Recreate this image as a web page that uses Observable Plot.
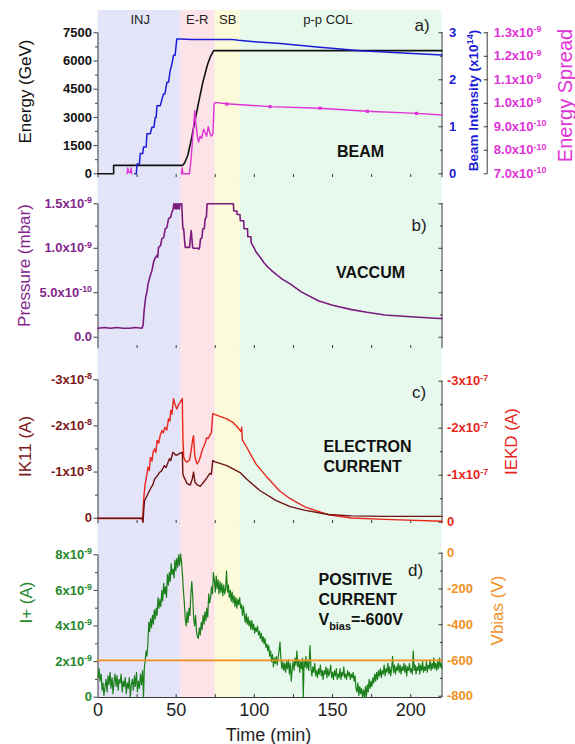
<!DOCTYPE html>
<html><head><meta charset="utf-8">
<script src="https://cdn.jsdelivr.net/npm/d3@7"></script>
<script src="https://cdn.jsdelivr.net/npm/@observablehq/plot@0.6"></script>
<style>
body{margin:0;background:#fff;}
#chart{position:relative;width:575px;height:744px;font-family:'Liberation Sans',Arial,sans-serif;}
#chart svg{position:absolute;left:0;}
#chart g[aria-label="y-axis tick label"] text{font-weight:bold;}
</style></head><body><div id="chart"></div>
<script>
// ---------------- data ----------------
const phaseNames = ["INJ", "E-R", "SB", "p-p COL"];
const phaseStart = [0, 53, 75, 91];
const phaseEnd = [53, 75, 91, 220];
const phaseLabelT = [27, 63.5, 83, 147];
const phaseColors = ["#e4e4f9", "#fce3e7", "#fbfbd9", "#e7f8ec"];

const timeTicks = [0, 50, 100, 150, 200];
const timeMinorTicks = [25, 50, 75, 100, 125, 150, 175, 200];

// a) Energy (GeV)
const energy = [[0,0],[10,0],[10,450],[54,450],[54.5,480],[55.5,600],[56.5,800],[57.5,1000],[58,1200],[60,1950],[61,2400],[62,2800],[64,3650],[67,4850],[70,5800],[72,6250],[74,6550],[220,6550]];
// a) Beam intensity (x1e14)
const beam = [[23.5,0],[24.5,0],[24.9,0.21],[26.5,0.21],[27,0.43],[28.6,0.43],[29.1,0.57],[30.8,0.57],[31.3,0.85],[33.4,0.85],[34.5,0.99],[35.8,0.99],[36.6,1.2],[37.2,1.2],[37.7,1.45],[39.8,1.45],[41.9,1.7],[42.8,1.7],[44.1,1.95],[45.1,1.95],[46.2,2.2],[47.3,2.34],[48.3,2.52],[49.3,2.52],[50.4,2.87],[53,2.87],[60,2.86],[75,2.86],[85,2.86],[90,2.84],[100,2.81],[116.6,2.77],[140,2.7],[168,2.62],[195,2.57],[220,2.53]];
// a) Energy spread (x1e-10)
const spread = [[18.6,7.0],[19,7.25],[19.8,7.05],[20.6,7.05],[21.2,7.25],[21.6,7.0]];
const spread2 = [[53.3,7.0],[53.8,7.25],[54.3,7.0],[58.5,7.0],[59.5,7.6],[60.5,8.5],[61.9,9.69],[62.5,9.2],[63.5,8.6],[64.3,8.35],[65.3,8.6],[66.3,8.5],[67.5,8.9],[68.5,8.75],[69.5,8.6],[70.5,9.0],[71.5,8.75],[72.5,8.6],[73.5,8.7],[74.2,9.95],[75,10.04],[82,9.98],[110,9.86],[142,9.79],[172,9.66],[204,9.57],[220,9.5]];
const spreadMarks = [[82.4,9.97],[110,9.86],[142,9.79],[172.3,9.66],[203.7,9.57]];

const energyTicks = [0, 1500, 3000, 4500, 6000, 7500];
const energyMinor = [750, 2250, 3750, 5250, 6750];
const beamTicks = [0, 1, 2, 3];
const beamMinor = [0.5, 1.5, 2.5];
const spreadTicks = [7, 8, 9, 10, 11, 12, 13];
const spreadLabels = ["7.0x10^{-10}", "8.0x10^{-10}", "9.0x10^{-10}", "1.0x10^{-9}", "1.1x10^{-9}", "1.2x10^{-9}", "1.3x10^{-9}"];

// b) Pressure (x1e-9 mbar)
const pressure = [[0,0.10],[4,0.11],[8,0.10],[12,0.11],[16,0.10],[20,0.10],[24,0.11],[28,0.10],[28.8,0.13],[29.5,0.3],[30.5,0.45],[31.3,0.51],[32,0.6],[33.4,0.69],[34.5,0.75],[35.5,0.84],[36.2,0.88],[37.7,0.92],[38.2,0.9],[38.7,1.01],[40,1.03],[40.9,1.11],[42,1.12],[43,1.22],[44,1.23],[45.1,1.33],[46.5,1.35],[47.3,1.41],[48,1.43],[48.5,1.5],[49,1.45],[49.5,1.5],[50,1.44],[50.5,1.5],[51,1.45],[51.5,1.5],[52,1.44],[52.5,1.5],[53.6,1.5],[53.9,1.35],[54.3,1.22],[54.8,1.22],[55.3,1.1],[55.8,1.01],[58.5,1.01],[59,1.1],[59.6,1.2],[60.1,1.1],[60.5,1.01],[61,1.0],[64,1.0],[64.5,0.99],[65,1.01],[65.5,1.1],[66.5,1.12],[67,1.22],[68,1.22],[68.5,1.33],[69.3,1.35],[69.8,1.5],[86.6,1.5],[86.8,1.42],[88.8,1.42],[89,1.38],[90.8,1.38],[91,1.31],[93.2,1.31],[93.4,1.22],[95.6,1.22],[95.8,1.13],[97.8,1.13],[98,1.06],[100,1.0],[101,0.96],[103.7,0.9],[106,0.84],[108,0.8],[111,0.75],[114.4,0.7],[118,0.65],[122.9,0.6],[130,0.51],[140.9,0.41],[150,0.36],[162.2,0.31],[172,0.28],[183.5,0.25],[200,0.23],[218.6,0.21],[220,0.21]];
const pressTicks = [0, 0.5, 1.0, 1.5];
const pressLabels = ["0.0", "5.0x10^{-10}", "1.0x10^{-9}", "1.5x10^{-9}"];
const pressMinor = [0.25, 0.75, 1.25];

// c) IK11 (x1e-8 A) and IEKD (x1e-7 A)
const ik11 = [[0,0],[28,0],[28.8,0.09],[29.3,-0.2],[29.8,-0.38],[30.8,-0.45],[31.9,-0.53],[33,-0.6],[34,-0.67],[35,-0.72],[36.2,-0.85],[37.5,-0.9],[39.3,-0.99],[40.5,-1.02],[42.5,-1.14],[43.5,-1.1],[45.7,-1.29],[46.5,-1.25],[47.9,-1.43],[50,-1.36],[52,-1.4],[53.9,-1.43],[54.3,-0.95],[55,-0.89],[57,-0.75],[59,-0.72],[60.3,-0.85],[61.1,-1.0],[62,-0.78],[63.5,-0.72],[65.4,-0.69],[67.5,-0.78],[69.5,-0.87],[71.5,-0.97],[72.5,-0.95],[73.4,-1.25],[75,-1.22],[82.4,-1.14],[90.9,-0.99],[95,-0.85],[103.5,-0.6],[114,-0.38],[122.9,-0.25],[132.6,-0.17],[147.4,-0.08],[162,-0.05],[183.5,-0.04],[220,-0.04]];
const iekd = [[0,-0.08],[28,-0.08],[28.5,-0.05],[28.8,-0.25],[29.5,-0.6],[30.2,-0.81],[31.2,-1.0],[31.9,-1.17],[32.8,-1.1],[33.5,-1.38],[34.5,-1.3],[35.3,-1.5],[36.2,-1.56],[37,-1.48],[37.8,-1.74],[38.8,-1.68],[39.8,-1.85],[40.9,-1.95],[41.8,-1.9],[42.8,-2.02],[44,-1.96],[45.1,-2.2],[46,-2.15],[46.5,-2.38],[47.3,-2.3],[48.3,-2.63],[49.3,-2.5],[50.4,-2.41],[51.5,-2.5],[52.5,-2.55],[53.9,-2.63],[54.3,-1.8],[54.8,-1.38],[56,-1.3],[56.9,-1.28],[58.5,-1.32],[59.5,-1.5],[60.5,-1.75],[61.1,-1.84],[61.8,-1.45],[62.5,-1.32],[63.4,-1.24],[64.5,-1.3],[65.4,-1.38],[66.5,-1.52],[67.5,-1.6],[68.5,-1.68],[69.5,-1.8],[70.5,-1.78],[71.5,-1.85],[72.5,-1.9],[73.4,-2.31],[75,-2.29],[78,-2.25],[82.4,-2.2],[86,-2.13],[89,-2.03],[91.5,-1.93],[91.9,-2.02],[92.3,-1.75],[95,-1.6],[101,-1.24],[108,-0.96],[116,-0.67],[122.9,-0.5],[132.6,-0.32],[147.4,-0.16],[162,-0.09],[183.5,-0.06],[220,-0.02]];
const ik11Ticks = [0, -1, -2, -3];
const ik11Labels = ["0", "-1x10^{-8}", "-2x10^{-8}", "-3x10^{-8}"];
const ik11Minor = [-0.5, -1.5, -2.5];
const iekdTicks = [0, -1, -2, -3];
const iekdLabels = ["0", "-1x10^{-7}", "-2x10^{-7}", "-3x10^{-7}"];
const iekdMinor = [-0.5, -1.5, -2.5];

// d) I+ (x1e-9 A) and Vbias (V)
const iplus = [[0,1.1],[0.7,1.6],[1.3,0.9],[2,1.3],[2.6,0.4],[3.2,0.8],[3.8,0.1],[4.5,0.6],[5.1,1.0],[5.8,0.3],[6.4,1.2],[7,0.7],[7.7,1.4],[8.3,0.5],[9,1.1],[9.6,0.2],[10.3,0.9],[10.9,1.3],[11.6,0.6],[12.2,1.2],[12.9,0.4],[13.5,1.0],[14.2,0.8],[14.8,1.3],[15.5,0.3],[16.1,0.9],[16.8,0.6],[17.4,1.1],[18.1,0.2],[18.7,0.8],[19.4,0.5],[20,1.1],[20.7,0.0],[21.3,0.7],[22,1.0],[22.6,0.4],[23.3,1.2],[23.9,0.6],[24.6,1.4],[25.2,0.3],[25.9,0.9],[26.5,0.5],[27.2,1.3],[27.8,0.7],[28.5,1.5],[29.1,0.0],
[29.6,1.6],[30.2,2.1],[30.8,2.6],[31.3,2.3],[31.9,3.0],[32.5,4.2],[33,3.7],[33.6,4.4],[34.2,3.9],[34.8,4.6],[35.4,4.1],[36,4.9],[36.6,4.4],[37.2,5.0],[37.8,4.6],[38.4,5.6],[39,5.0],[39.6,5.5],[40.2,5.1],[40.8,6.0],[41.4,5.4],[42,6.4],[42.6,5.8],[43.2,6.2],[43.8,5.6],[44.4,6.9],[45,6.3],[45.6,7.0],[46.2,6.5],[46.8,7.5],[47.4,6.9],[48,7.2],[48.6,6.7],[49.2,7.7],[49.8,7.1],[50.4,7.8],[51,7.3],[51.6,8.0],[52.2,7.4],[52.8,8.05],[53.4,7.6],[54,6.9],
[54.6,6.0],[55.2,5.3],[55.8,4.4],[56.4,4.0],[57,4.8],[57.6,4.2],[58.2,5.0],[58.8,4.6],[59.4,5.8],[60,6.5],[60.6,5.6],[61.2,4.4],[61.8,4.0],[62.4,4.6],[63,3.7],[63.6,3.4],[64.2,3.3],[64.8,3.9],[65.4,3.5],[66,4.2],[66.6,3.8],[67.2,4.6],[67.8,4.1],[68.4,4.8],[69,4.3],[69.6,5.0],[70.2,4.5],[70.8,5.8],[71.4,5.3],[72,5.6],[72.6,6.2],[73.2,5.8],[73.8,7.0],[74.4,6.6],[75,5.9],[75.6,6.8],[76.2,6.1],[76.8,6.6],[77.4,5.8],[78,6.5],[78.6,5.9],[79.2,6.4],[79.8,5.7],[80.4,6.3],[81,5.8],[81.6,6.1],[82.2,7.1],[82.8,5.9],[83.4,6.3],[84,5.6],[84.6,6.0],[85.2,5.4],[85.8,5.9],[86.4,5.3],[87,5.7],[87.6,5.1],[88.2,5.6],[88.8,5.0],[89.4,5.5],[90,5.2],[90.6,5.6],[91.2,5.0],[91.8,5.2],[92.4,4.6],[93,5.1],[93.6,4.6],[94.2,4.2],[94.8,4.7],[95.4,4.1],[96,4.5],[96.6,4.0],[97.2,4.3],[97.8,3.8],[98.4,4.3],[99,3.8],[99.6,4.1],[100.2,3.6],[100.8,3.9],[101.4,3.7],[102,4.0],[102.6,3.5],[103.2,3.7],[103.8,3.3],[104.4,3.6],[105,3.1],[105.6,3.4],[106.2,3.0],[106.8,3.3],[107.4,2.8],[108,3.0],[108.6,2.6],[109.2,2.9],[109.8,2.3],[110.4,2.6],[111,2.0],[111.6,2.4],[112.2,1.7],[112.8,2.2],[113.4,1.9],[114,2.3],[114.6,1.8],[115.2,2.2],[115.8,2.6],[116.4,3.1],[117,2.1],[117.6,1.6],[118.2,2.0],[118.8,1.5],[119.4,1.9],[120,1.4],[120.6,2.0],[121.2,1.6],[121.8,2.1],[122.4,1.3],[123,1.9],[123.6,0.9],[124.2,1.6],[124.8,2.0],[125.4,1.5],[126,2.2],[126.6,1.8],[127.2,2.6],[127.8,1.7],[128.4,2.1],[129,1.4],[129.6,2.0],[130.2,1.6],[130.8,2.2],[131.3,0.0],[131.8,2.0],[132.4,1.7],[133,2.3],[133.6,1.6],[134.2,2.0],[134.8,1.5],[135.6,2.9],[136.2,1.6],[136.8,1.2],[137.4,1.7],[138,1.4],[138.6,1.9],[139.2,1.2],[139.8,1.5],[140.4,1.1],[141,1.6],[141.6,1.3],[142.2,1.8],[142.8,1.2],[143.4,1.5],[144,1.0],[144.6,1.5],[145.2,1.3],[145.8,1.7],[146.4,1.1],[147,1.6],[147.6,1.2],[148.2,1.4],[148.8,1.8],[149.4,1.1],[150,1.4],[150.6,1.0],[151.2,1.5],[151.8,1.2],[152.4,1.6],[153,1.0],[153.6,1.3],[154.2,1.1],[154.8,1.6],[155.4,1.0],[156,1.4],[156.6,1.2],[157.2,1.7],[157.8,1.1],[158.4,1.3],[159,1.0],[159.6,1.5],[160.2,1.2],[160.8,1.4],[161.4,1.0],[162,1.3],[162.6,1.1],[163.2,1.4],[163.8,0.9],[164.4,1.2],[165,0.5],[165.6,0.3],[166.2,0.8],[166.8,0.1],[167.4,0.6],[168,0.2],[168.6,0.5],[169.2,0.0],[169.8,0.4],[170.4,0.0],[171,0.6],[171.6,0.0],[172.2,0.7],[172.8,0.3],[173.4,1.0],[174,0.5],[174.6,0.9],[175.2,0.6],[175.8,1.1],[176.4,0.8],[177,1.3],[177.6,0.9],[178.2,1.4],[178.8,1.0],[179.4,1.5],[180,1.2],[180.6,1.6],[181.2,1.1],[181.8,1.5],[182.4,1.3],[183,1.8],[183.6,1.2],[184.2,1.6],[184.8,1.4],[185.4,1.9],[186,1.3],[186.6,1.7],[187.2,1.2],[187.8,1.6],[188.4,2.3],[189,1.4],[189.6,1.8],[190.2,1.3],[190.8,1.7],[191.4,1.5],[192,1.9],[192.6,1.4],[193.2,1.8],[193.8,1.3],[194.4,1.7],[195,1.5],[195.6,1.9],[196.2,1.4],[196.8,1.8],[197.4,1.2],[198,1.7],[198.6,1.5],[199.2,1.9],[199.8,1.4],[200.4,1.6],[201,1.3],[201.6,2.6],[202.2,1.5],[202.8,1.8],[203.4,1.3],[204,1.7],[204.6,1.5],[205.2,1.9],[205.8,1.3],[206.4,1.8],[207,1.5],[207.6,2.0],[208.2,1.4],[208.8,1.7],[209.4,1.5],[210,2.0],[210.6,1.4],[211.2,1.8],[211.8,1.6],[212.4,2.1],[213,1.5],[213.6,1.9],[214.2,1.6],[214.8,2.2],[215.4,1.6],[216,1.9],[216.6,1.5],[217.2,2.0],[217.8,1.6],[218.4,2.2],[219,1.7],[219.6,1.9],[220,1.6]];
const vbias = [[0,-600],[220,-600]];
const ipTicks = [0, 2, 4, 6, 8];
const ipLabels = ["0", "2x10^{-9}", "4x10^{-9}", "6x10^{-9}", "8x10^{-9}"];
const ipMinor = [1, 3, 5, 7];
const vbiasTicks = [0, -200, -400, -600, -800];
const vbiasMinor = [-100, -300, -500, -700];

// ---------------- helpers ----------------
const W = 575, ML = 97.5, MR = 133.5;
const FONT = "'Liberation Sans', Arial, Helvetica, sans-serif";
const AX = "#3a3a3a";
const C = {blue:"#1c1cd6", magenta:"#e033d6", purple:"#7a1b7e", purpleT:"#84268c", dred:"#6e1212", dredT:"#7b1818", red:"#e8261c", green:"#1b7f1b", greenT:"#26882a", orange:"#f0901e"};

// secondary-axis mappings into each panel's primary y units
const fBeam = v => v * 2500;
const fSpread = v => (v - 7) / 6 * 7500;
const fNeg = v => -v;
const fIekd = v => -0.087 + 1.019 * (-v);
const fVbias = v => 0.0562 + 0.010042 * (v + 800);
const id = v => v;

function bands() {
  return phaseNames.map((n, i) => Plot.rect([i], {x1: () => phaseStart[i], x2: () => phaseEnd[i], fill: phaseColors[i]}));
}
function line(data, f, opts) { return Plot.line(data, {x: d => d[0], y: d => f(d[1]), ...opts}); }
function yAxis(ticks, labels, f, opts) {
  const pos = ticks.map(f);
  const m = new Map(pos.map((p, i) => [p, labels ? labels[i] : ""]));
  return Plot.axisY(pos, {tickFormat: p => m.get(p), label: null, fontSize: 13, fontWeight: "bold", stroke: AX, ...opts});
}
function xTicksInward() {
  return Plot.axisX(timeMinorTicks, {tickSize: 3, dy: -3, tickFormat: () => "", label: null, stroke: AX});
}
function txt(s, opts) { return Plot.text([s], {text: d => d, lineAnchor: "middle", ...opts}); }
function vlabel(s, opts) { return Plot.text([s], {text: d => d, rotate: -90, textAnchor: "middle", lineAnchor: "middle", ...opts}); }

function richify(svg) {
  svg.querySelectorAll("text").forEach(t => {
    const spans = t.querySelectorAll("tspan");
    const els = spans.length ? Array.from(spans) : [t];
    els.forEach(el => {
      const s = el.textContent;
      if (!/[\^_]\{/.test(s)) return;
      el.textContent = "";
      const re = /([\^_])\{([^}]*)\}/g;
      let last = 0, m, shift = 0;
      const add = (str, dy, size) => {
        const ts = document.createElementNS("http://www.w3.org/2000/svg", "tspan");
        if (dy) ts.setAttribute("dy", dy);
        if (size) ts.setAttribute("font-size", size);
        ts.textContent = str;
        el.appendChild(ts);
      };
      while ((m = re.exec(s))) {
        if (m.index > last) { add(s.slice(last, m.index), shift ? (-shift) + "em" : null); shift = 0; }
        if (m[1] === "^") { add(m[2], "-0.55em", "68%"); shift = -0.374; }
        else { add(m[2], "0.45em", "68%"); shift = 0.306; }
        last = re.lastIndex;
      }
      if (last < s.length) add(s.slice(last), shift ? (-shift) + "em" : null);
    });
  });
}

function makePanel(top, height, mt, mb, yDomain, marks) {
  const svg = Plot.plot({
    width: W, height, marginLeft: ML, marginRight: MR, marginTop: mt, marginBottom: mb,
    x: {domain: [0, 220]}, y: {domain: yDomain},
    style: {fontFamily: FONT, fontSize: "13px", background: "transparent", overflow: "visible", color: "#222"},
    marks
  });
  svg.style.top = top + "px";
  richify(svg);
  document.getElementById("chart").appendChild(svg);
}

// ---------------- panel a ----------------
const dA = [-197, 8686];
makePanel(0, 177, 10, 0, dA, [
  ...bands(),
  Plot.ruleY([dA[0]], {stroke: AX}),
  Plot.ruleX([0], {y1: dA[0], y2: 7500, stroke: AX}),
  Plot.ruleX([220], {y1: dA[0], y2: 7500, stroke: AX}),
  Plot.ruleX([220], {y1: fSpread(7), y2: fSpread(13), dx: 45.2, stroke: AX}),
  yAxis(energyTicks, energyTicks.map(String), id, {anchor: "left", tickSize: 4, tickPadding: 2, fill: "#111"}),
  yAxis(energyMinor, null, id, {anchor: "left", tickSize: 2.5}),
  yAxis(beamTicks, beamTicks.map(String), fBeam, {anchor: "right", tickSize: 4, dx: -4, tickPadding: 7, fill: C.blue}),
  yAxis(beamMinor, null, fBeam, {anchor: "right", tickSize: 2.5, dx: -2.5}),
  yAxis(spreadTicks, spreadLabels, fSpread, {anchor: "right", tickSize: 4, dx: 41.2, tickPadding: 6.6, fill: C.magenta}),
  xTicksInward(),
  line(energy, id, {stroke: "#111", strokeWidth: 1.6}),
  line(beam, fBeam, {stroke: C.blue, strokeWidth: 1.5}),
  line(spread, fSpread, {stroke: C.magenta, strokeWidth: 1.4}),
  line(spread2, fSpread, {stroke: C.magenta, strokeWidth: 1.4}),
  Plot.dot(spreadMarks, {x: d => d[0], y: d => fSpread(d[1]), symbol: "square", r: 1.8, fill: C.magenta}),
  Plot.text(phaseNames, {x: (d, i) => phaseLabelT[i], text: d => d, frameAnchor: "top", lineAnchor: "middle", dy: 9, fontSize: 13, fill: "#222"}),
  txt("a)", {frameAnchor: "top-right", dx: -20, dy: 15, fontSize: 17, fill: "#222", textAnchor: "middle"}),
  txt("BEAM", {frameAnchor: "top-left", dx: 262.5, dy: 141, fontSize: 16, fontWeight: "bold", fill: "#111", textAnchor: "middle"}),
  vlabel("Energy (GeV)", {frameAnchor: "left", dx: -72.5, dy: -2.5, fontSize: 17, fill: "#111"}),
  vlabel("Beam Intensity (x10^{14})", {frameAnchor: "right", dx: 31.5, dy: 6.5, fontSize: 13.5, fontWeight: "bold", fill: C.blue}),
  vlabel("Energy Spread", {frameAnchor: "right", dx: 123.5, dy: 1.5, fontSize: 20, fill: C.magenta})
]);

// ---------------- panel b ----------------
const dB = [-0.127, 1.796];
makePanel(177, 171, 0, 0, dB, [
  ...bands(),
  Plot.ruleY([dB[0]], {stroke: AX}),
  Plot.ruleX([0], {y1: dB[0], y2: 1.5, stroke: AX}),
  Plot.ruleX([220], {y1: dB[0], y2: 1.5, stroke: AX}),
  yAxis(pressTicks, pressLabels, id, {anchor: "left", tickSize: 4, tickPadding: 2, fill: C.purpleT}),
  yAxis(pressMinor, null, id, {anchor: "left", tickSize: 2.5}),
  yAxis(pressTicks, null, id, {anchor: "right", tickSize: 4, dx: -4}),
  yAxis(pressMinor, null, id, {anchor: "right", tickSize: 2.5, dx: -2.5}),
  xTicksInward(),
  line(pressure, id, {stroke: C.purple, strokeWidth: 1.6}),
  txt("b)", {frameAnchor: "top-right", dx: -23, dy: 48, fontSize: 17, fill: "#222", textAnchor: "middle"}),
  txt("VACCUM", {frameAnchor: "top-left", dx: 272.5, dy: 95.5, fontSize: 16, fontWeight: "bold", fill: "#111", textAnchor: "middle"}),
  vlabel("Pressure (mbar)", {frameAnchor: "left", dx: -73.5, dy: 2.5, fontSize: 17, fill: C.purpleT})
]);

// ---------------- panel c ----------------
const dC = [-0.115, 3.679];
makePanel(348, 175, 0, 0, dC, [
  ...bands(),
  Plot.ruleY([dC[0]], {stroke: AX}),
  Plot.ruleX([0], {y1: dC[0], y2: 3, stroke: AX}),
  Plot.ruleX([220], {y1: dC[0], y2: fIekd(-3), stroke: AX}),
  yAxis(ik11Ticks, ik11Labels, fNeg, {anchor: "left", tickSize: 4, tickPadding: 2, fill: C.dredT}),
  yAxis(ik11Minor, null, fNeg, {anchor: "left", tickSize: 2.5}),
  yAxis(iekdTicks, iekdLabels, fIekd, {anchor: "right", tickSize: 4, dx: -4, tickPadding: 5, fill: C.red}),
  yAxis(iekdMinor, null, fIekd, {anchor: "right", tickSize: 2.5, dx: -2.5}),
  xTicksInward(),
  line(iekd, fIekd, {stroke: C.red, strokeWidth: 1.4}),
  line(ik11, fNeg, {stroke: C.dred, strokeWidth: 1.4}),
  txt("c)", {frameAnchor: "top-right", dx: -23, dy: 44.5, fontSize: 17, fill: "#222", textAnchor: "middle"}),
  txt("ELECTRON\nCURRENT", {frameAnchor: "top-left", dx: 225.5, dy: 107, fontSize: 16, lineHeight: 1.25, fontWeight: "bold", fill: "#111", textAnchor: "start"}),
  vlabel("IK11 (A)", {frameAnchor: "left", dx: -72.5, dy: 10.5, fontSize: 17, fill: C.dredT}),
  vlabel("IEKD (A)", {frameAnchor: "right", dx: 69.5, dy: 5.5, fontSize: 17, fill: C.red})
]);

// ---------------- panel d ----------------
const dD = [-0.017, 9.758];
makePanel(523, 221, 0, 47, dD, [
  ...bands(),
  Plot.ruleY([dD[0]], {stroke: AX}),
  Plot.ruleX([0], {y1: dD[0], y2: 8, stroke: AX}),
  Plot.ruleX([220], {y1: dD[0], y2: fVbias(0), stroke: AX}),
  yAxis(ipTicks, ipLabels, id, {anchor: "left", tickSize: 4, tickPadding: 2, fill: C.greenT}),
  yAxis(ipMinor, null, id, {anchor: "left", tickSize: 2.5}),
  yAxis(vbiasTicks, vbiasTicks.map(String), fVbias, {anchor: "right", tickSize: 4, dx: -4, tickPadding: 5, fill: C.orange}),
  yAxis(vbiasMinor, null, fVbias, {anchor: "right", tickSize: 2.5, dx: -2.5}),
  xTicksInward(),
  Plot.axisX(timeTicks, {tickSize: 0, tickPadding: 6, fontSize: 18, label: null, fill: "#222", tickFormat: d => String(d)}),
  line(iplus, id, {stroke: C.green, strokeWidth: 1.2}),
  line(vbias, fVbias, {stroke: C.orange, strokeWidth: 1.7}),
  txt("d)", {frameAnchor: "top-right", dx: -26.5, dy: 47, fontSize: 17, fill: "#222", textAnchor: "middle"}),
  txt("POSITIVE\nCURRENT\nV_{bias}=-600V", {frameAnchor: "top-left", dx: 220.5, dy: 75.5, fontSize: 16, lineHeight: 1.25, fontWeight: "bold", fill: "#111", textAnchor: "start"}),
  vlabel("I+ (A)", {frameAnchor: "left", dx: -71.5, dy: -8, fontSize: 17, fill: C.greenT}),
  vlabel("Vbias (V)", {frameAnchor: "right", dx: 55.5, dy: 0, fontSize: 17, fill: C.orange}),
  txt("Time (min)", {frameAnchor: "bottom", dx: -1.5, dy: 38, fontSize: 18, fill: "#222"})
]);
</script></body></html>
